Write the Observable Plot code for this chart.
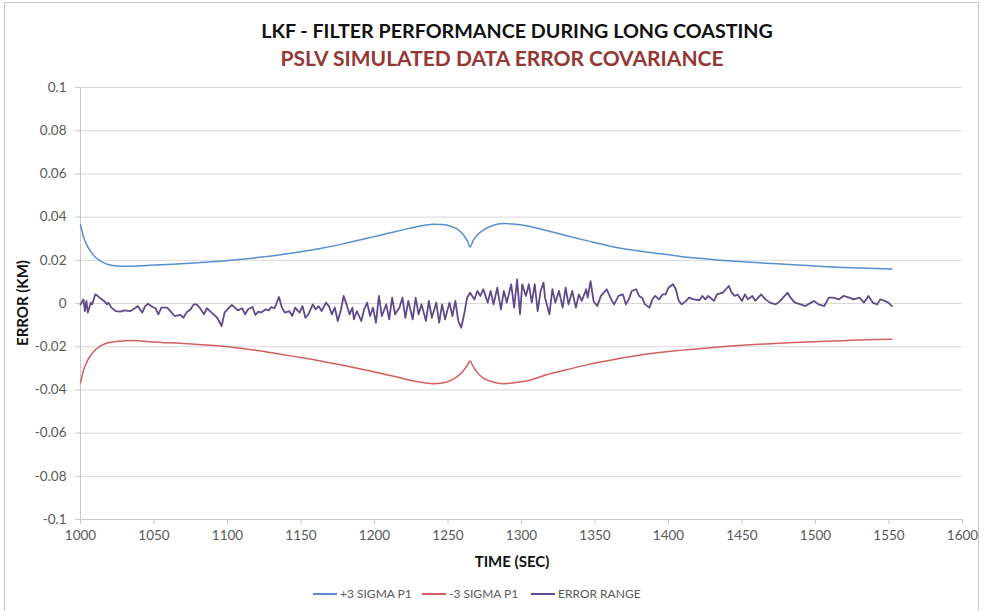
<!DOCTYPE html>
<html><head><meta charset="utf-8">
<script src="https://cdn.jsdelivr.net/npm/d3@7"></script>
<script src="https://cdn.jsdelivr.net/npm/@observablehq/plot@0.6"></script>
<style>
body{margin:0;background:#fff;}
#wrap{position:relative;width:986px;height:611px;overflow:hidden;font-family:"Liberation Sans Narrow","Lato",sans-serif;}
#frame{position:absolute;left:4px;top:2px;width:975px;height:640px;border:1px solid #c8c8c8;box-sizing:border-box;}
#chart{position:absolute;left:0;top:0;}
.t1{position:absolute;left:0;width:1034px;top:19px;text-align:center;font-weight:bold;font-size:19.7px;color:#111;}
.t2{position:absolute;left:0;width:1004px;top:45px;text-align:center;font-weight:bold;font-size:21px;color:#953735;}
.xl{position:absolute;left:0;width:1024px;top:552px;text-align:center;font-weight:bold;font-size:15px;color:#111;}
.yl{position:absolute;left:22px;top:303px;transform:translate(-50%,-50%) rotate(-90deg);font-weight:bold;font-size:15px;color:#111;white-space:nowrap;}
.leg{position:absolute;top:586px;font-size:12px;color:#595959;white-space:nowrap;}
.sw{display:inline-block;width:24px;height:2px;vertical-align:middle;margin-right:3px;position:relative;top:-1px;}
</style></head>
<body><div id="wrap">
<div id="frame"></div>
<div id="chart"></div>
<div class="t1">LKF - FILTER PERFORMANCE DURING LONG COASTING</div>
<div class="t2">PSLV SIMULATED DATA ERROR COVARIANCE</div>
<div class="xl">TIME (SEC)</div>
<div class="yl">ERROR (KM)</div>
<div class="leg" style="left:313px"><span class="sw" style="background:#5a8ed0"></span>+3 SIGMA P1</div>
<div class="leg" style="left:422px"><span class="sw" style="background:#d0605d"></span>-3 SIGMA P1</div>
<div class="leg" style="left:531px"><span class="sw" style="background:#5f4a8b"></span>ERROR RANGE</div>
</div>
<script>
const xTicks = [1000,1050,1100,1150,1200,1250,1300,1350,1400,1450,1500,1550,1600];
const yTicks = [-0.1,-0.08,-0.06,-0.04,-0.02,0,0.02,0.04,0.06,0.08,0.1];

const sigmaTime = [1000,1002,1004,1007,1010,1014,1018,1023,1030,1036,1045,1055,1068,1080,1095,1110,1125,1136,1150,1165,1181,1197,1210,1220,1227,1234,1240,1246,1252,1256,1260,1263,1265,1267,1270,1274,1280,1288,1296,1305,1317,1330,1345,1363,1380,1395,1408,1425,1440,1453,1470,1485,1499,1519,1535,1552];
const plusSigma = [0.0365,0.031,0.0275,0.024,0.0215,0.0195,0.0182,0.0175,0.0172,0.0172,0.0176,0.0179,0.0184,0.0189,0.0196,0.0205,0.0216,0.0226,0.0240,0.0257,0.0280,0.0305,0.0326,0.0342,0.0353,0.0362,0.0367,0.0366,0.0358,0.0345,0.0322,0.0292,0.0262,0.0290,0.0318,0.0340,0.0360,0.0370,0.0367,0.0358,0.0338,0.0315,0.0290,0.0262,0.0243,0.0230,0.0218,0.0207,0.0198,0.0192,0.0185,0.0179,0.0174,0.0167,0.0163,0.0160];
const minusSigma = [-0.0367,-0.031,-0.0275,-0.024,-0.0215,-0.0195,-0.0183,-0.0177,-0.0173,-0.0171,-0.0176,-0.0180,-0.0184,-0.0190,-0.0197,-0.0208,-0.0222,-0.0235,-0.0250,-0.0268,-0.0289,-0.0312,-0.0332,-0.0348,-0.0359,-0.0367,-0.0371,-0.0368,-0.0356,-0.0340,-0.0315,-0.0288,-0.0266,-0.0290,-0.0320,-0.0345,-0.0362,-0.0371,-0.0366,-0.0356,-0.0330,-0.0308,-0.0283,-0.0259,-0.0240,-0.0226,-0.0217,-0.0207,-0.0198,-0.0192,-0.0186,-0.0181,-0.0177,-0.0172,-0.0168,-0.0166];

const errTime = [1000,1002,1003,1004,1005,1007,1008,1009,1010,1011,1013,1016,1018,1019,1021,1024,1027,1030,1034,1037,1039,1042,1044,1046,1049,1051,1053,1055,1059,1062,1064,1068,1070,1072,1075,1077,1079,1081,1084,1086,1088,1090,1093,1096,1098,1101,1103,1105,1107,1110,1112,1114,1117,1119,1121,1123,1126,1128,1130,1132,1135,1137,1139,
1142,1144,1146,1149,1151,1153,1155,1158,1160,1162,1164,1167,1169,1171,1173,1175,1177,1179,1181,1183,1185,1186,1188,1191,1193,1195,1197,1199,1201,1203,1205,1208,1210,1212,1214,1217,1219,1221,1223,1226,1228,1230,1232,1235,1237,1239,1242,1244,1246,1248,1251,1253,1255,1257,1259,1261,1263,1265,1268,1270,1272,1274,1277,
1279,1281,1283.5,1286,1288,1290,1293,1295,1297,1299,1300.5,1303,1305,1307,1309,1311,1313,1315,1316,1319,1321,1323,1325.5,1328,1330,1332,1334.5,1337,1339,1341,1344,1345,1347,1349,1351.5,1354,1356,1358,1361,1363,1366,1369,1371,1373,1375,1378,1380,1382,1384,1387,1389,1391,1393.5,1396,1398,1400,1403,1405,1407,1409,1412,1414,1417,
1421,1423,1425,1427,1431,1433,1437,1439,1441,1443,1445,1447,1450,1452,1454,1457,1459,1463,1466,1469,1473,1476,1478,1481,1483,1486,1490,1493,1497,1499,1502,1506,1509,1512,1516,1519,1523,1526,1530,1533,1536,1539,1542,1544,1547,1549.5,1552];
const errorRange = [-0.0005,0.0019,-0.0035,0.0012,-0.0042,0.0004,-0.0004,0.0019,0.0042,0.0039,0.0027,0.0012,-0.0004,0.0004,-0.0019,-0.0035,-0.0038,-0.0032,-0.0035,-0.0022,-0.0012,-0.0042,-0.0012,-0.0001,-0.0016,-0.0022,-0.0050,-0.0019,-0.0019,-0.0042,-0.0058,-0.0053,-0.0066,-0.0042,-0.0027,-0.0004,-0.0004,-0.0019,-0.0050,-0.0022,-0.0035,-0.0047,-0.0066,-0.0104,-0.0042,-0.0019,-0.0007,-0.0019,-0.0032,-0.0022,-0.0050,-0.0027,-0.0016,-0.0053,-0.0038,-0.0042,-0.0027,-0.0032,-0.0016,-0.0022,0.0030,-0.0019,-0.0042,
-0.0035,-0.0058,-0.0019,-0.0042,-0.0012,-0.0066,-0.0050,-0.0004,-0.0027,-0.0012,-0.0035,0.0004,-0.0012,-0.0050,-0.0019,-0.0081,-0.0035,0.0035,-0.0004,-0.0050,-0.0019,-0.0073,-0.0035,-0.0081,-0.0027,0.0004,-0.0058,-0.0019,-0.0089,0.0035,-0.0058,-0.0004,-0.0073,0.0027,-0.0050,-0.0019,0.0027,-0.0066,0.0012,-0.0073,0.0027,-0.0050,-0.0004,-0.0081,0.0012,-0.0066,0.0004,-0.0089,-0.0004,-0.0073,0.0004,-0.0058,0.0012,-0.0081,-0.0112,-0.0050,0.0027,0.0050,0.0019,0.0058,0.0035,0.0066,0.0004,
0.0058,-0.0004,0.0073,-0.0027,0.0058,0.0004,0.0089,-0.0019,0.0112,-0.0050,0.0089,0.0035,0.0089,0.0004,0.0089,-0.0035,0.0058,0.0097,0.0027,-0.0050,0.0066,0.0004,0.0058,-0.0019,0.0073,-0.0004,0.0058,-0.0019,0.0042,0.0012,0.0066,0.0027,0.0104,0.0012,-0.0012,0.0035,0.0050,0.0066,0.0019,-0.0004,0.0035,0.0042,-0.0004,0.0019,0.0058,0.0066,0.0035,0.0027,-0.0004,-0.0019,0.0019,0.0035,0.0019,0.0042,0.0042,0.0073,0.0089,0.0066,0.0012,-0.0004,0.0012,0.0027,0.0019,
0.0015,0.0035,0.0019,0.0035,0.0012,0.0042,0.0050,0.0066,0.0081,0.0050,0.0035,0.0042,0.0012,0.0042,0.0019,0.0035,0.0012,0.0042,0.0019,0.0004,-0.0004,0.0012,0.0027,0.0050,0.0027,0.0004,-0.0004,-0.0012,0.0004,0.0012,-0.0004,-0.0012,0.0027,0.0027,0.0019,0.0035,0.0027,0.0019,0.0027,0.0004,0.0035,0.0004,-0.0004,0.0019,0.0012,0.0004,-0.0012];

const font = '"Liberation Sans Narrow","Lato",sans-serif';
const plusData = sigmaTime.map((t,i)=>({t, v: plusSigma[i]}));
const minusData = sigmaTime.map((t,i)=>({t, v: minusSigma[i]}));
const errData = errTime.map((t,i)=>({t, v: errorRange[i]}));
const fmtY = d => String(+d.toFixed(2));

const chart = Plot.plot({
  width: 986, height: 611,
  marginLeft: 80, marginRight: 24, marginTop: 87, marginBottom: 92,
  x: {domain: [1000,1600]},
  y: {domain: [-0.1,0.1]},
  style: {fontFamily: font, fontSize: "13.5px", background: "transparent", overflow: "visible"},
  marks: [
    Plot.gridY(yTicks, {stroke: "#d9d9d9", strokeOpacity: 1, strokeWidth: 1}),
    Plot.ruleX([1000], {stroke: "#c8c8c8"}),
    Plot.ruleY([-0.1], {stroke: "#c8c8c8"}),
    Plot.axisY(yTicks, {tickSize: 5, tickPadding: 9, stroke: "#c8c8c8", fill: "#595959", tickFormat: fmtY, label: null}),
    Plot.axisX(xTicks, {tickSize: 5, tickPadding: 6, stroke: "#c8c8c8", fill: "#595959", tickFormat: d => String(d), label: null}),
    Plot.line(plusData, {x: "t", y: "v", stroke: "#5a8ed0", strokeWidth: 1.5, curve: "monotone-x"}),
    Plot.line(minusData, {x: "t", y: "v", stroke: "#d0605d", strokeWidth: 1.5, curve: "monotone-x"}),
    Plot.line(errData, {x: "t", y: "v", stroke: "#5f4a8b", strokeWidth: 1.8})
  ]
});
document.getElementById("chart").appendChild(chart);
</script>
</body></html>
